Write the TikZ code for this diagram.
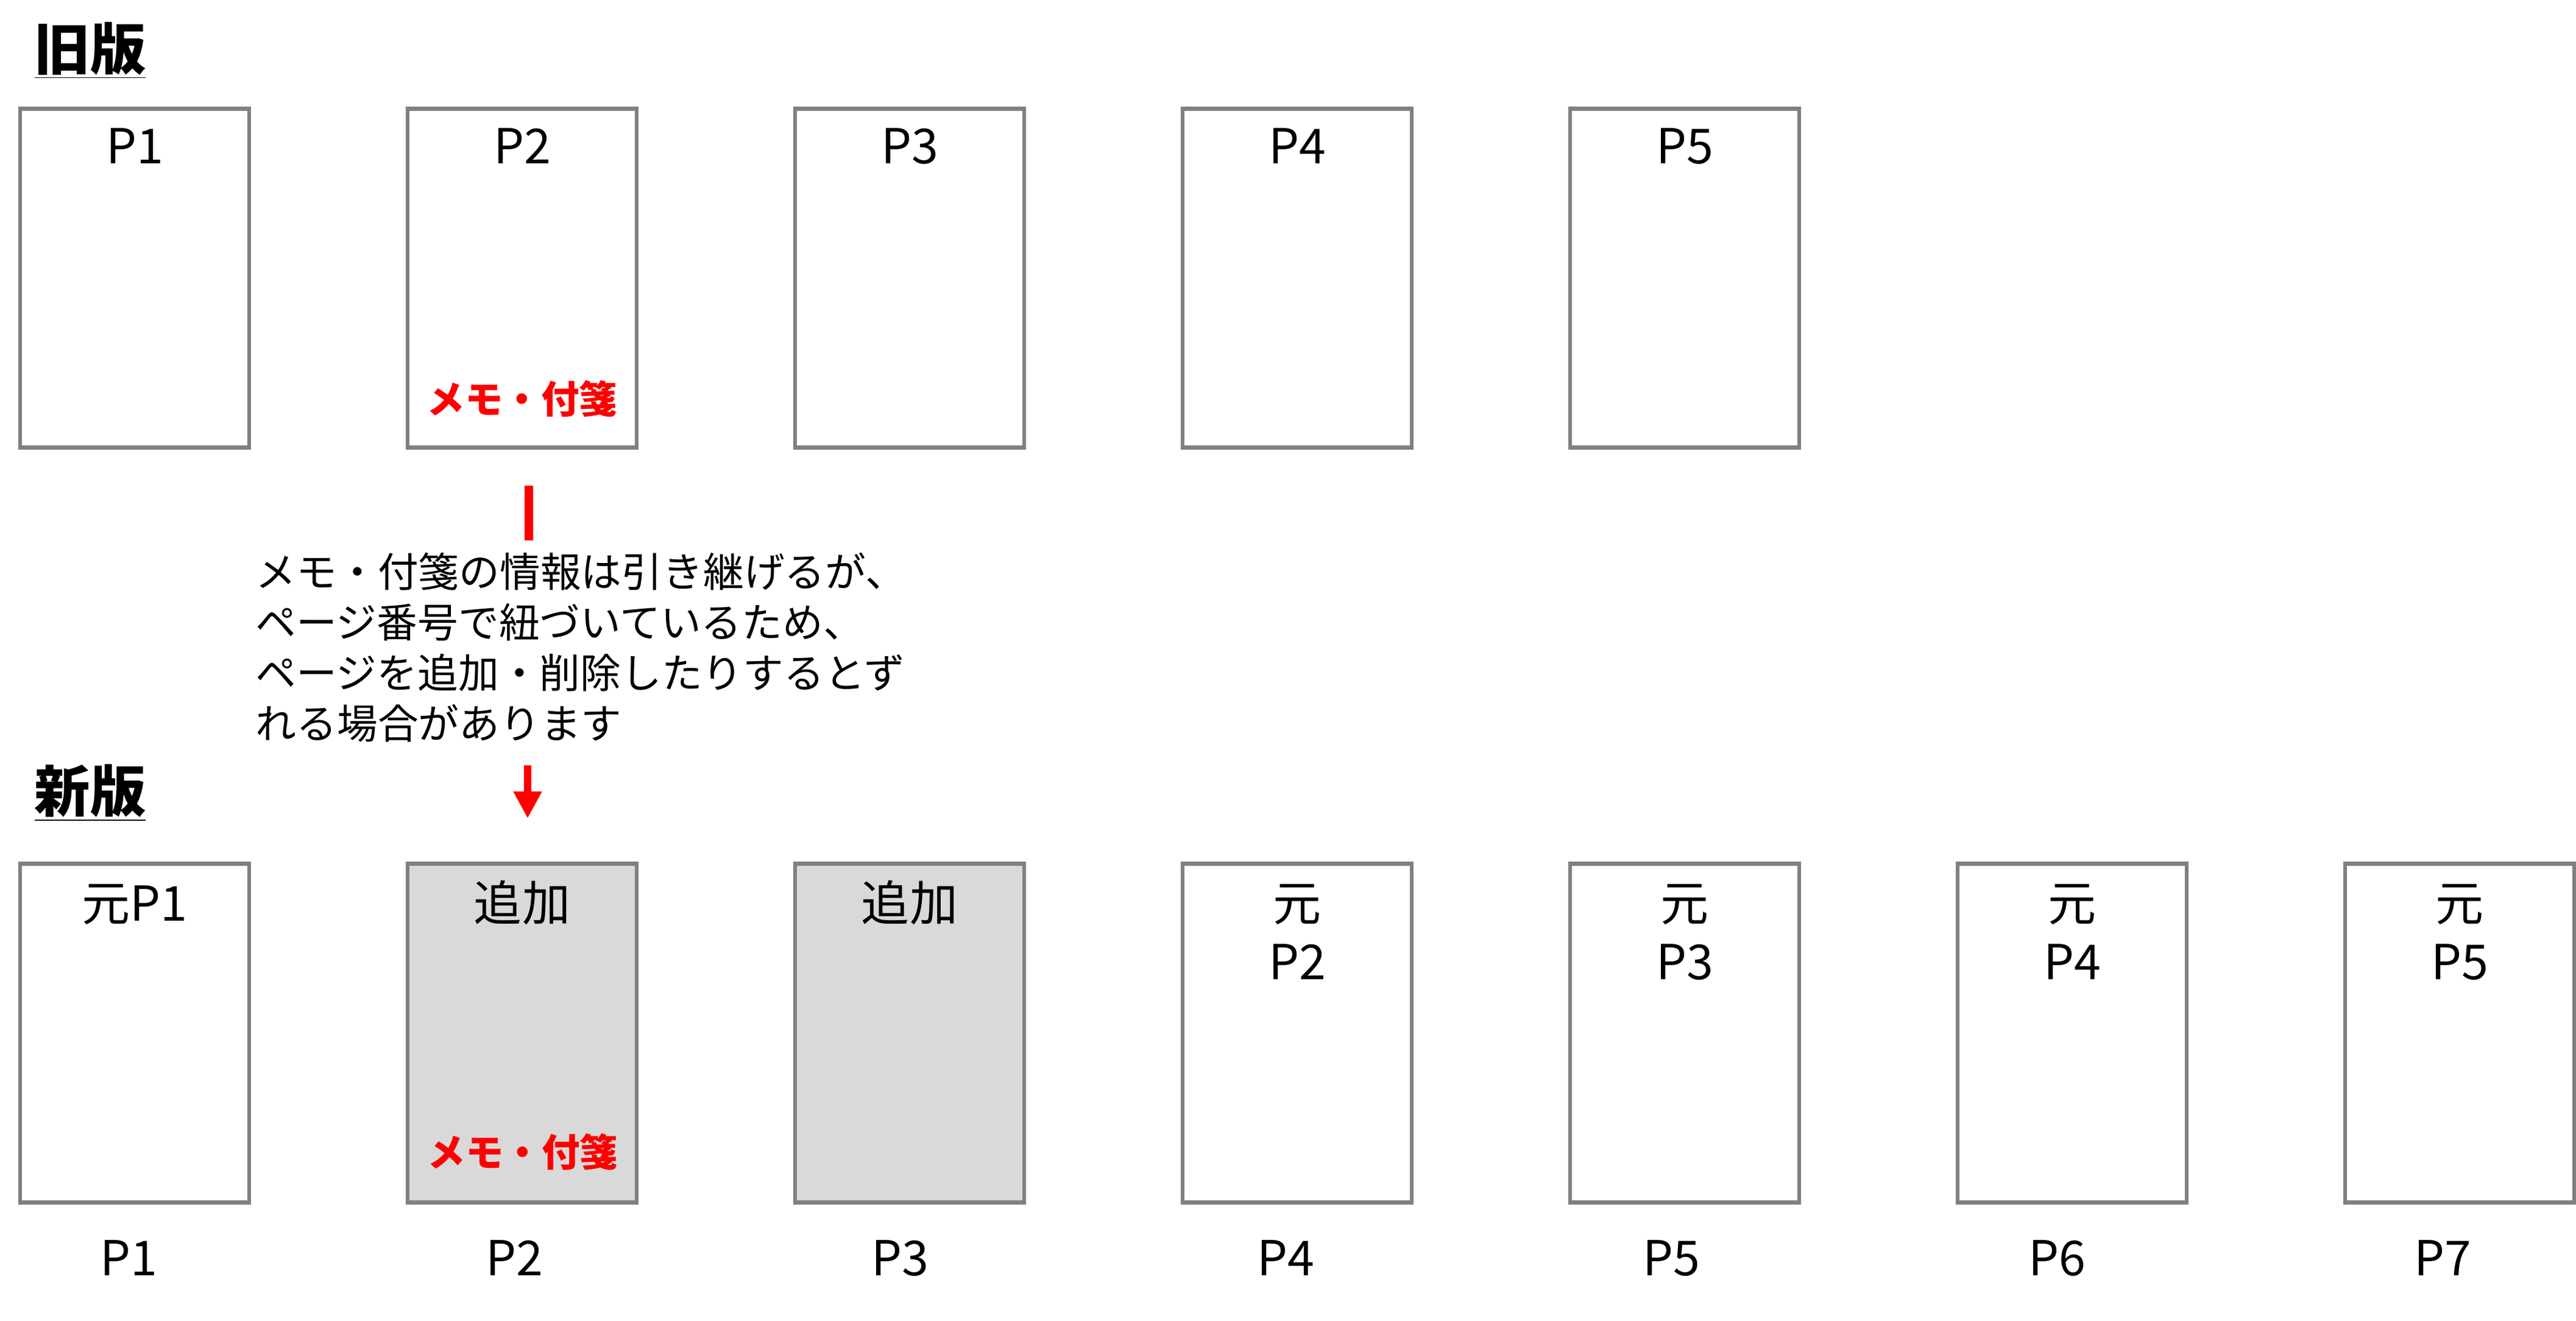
\documentclass[tikz,border=0pt]{standalone}
\usepackage{fontspec}
\setmainfont{Noto Sans CJK JP}
\usetikzlibrary{arrows.meta,positioning}

\def\pitch{6.36}
\def\oldpg#1#2{\node[page] (old#1) at (2.21 + \pitch * #1, -4.565) {};
    \node[pagelabel] (oldtxt#1) at (2.21 + \pitch * #1, -2.68) {#2};}
% #4: y of the last baseline of the label
\def\newpg#1#2#3#4{\node[#2] (new#1) at (2.21 + \pitch * #1, -16.955) {};
    \node[pagelabel] (newtxt#1) at (2.21 + \pitch * #1, #4) {#3};}
\def\pgnum#1#2{\node[pagenum] (num#1) at (2.11 + 6.33 * #1, -20.93) {#2};}

\begin{document}
\begin{tikzpicture}[
    page/.style={draw=gray, fill=white, line width=0.067cm,
        minimum width=3.76cm, minimum height=5.56cm,
        inner sep=0, outer sep=0},
    added/.style={page, fill=black!15},
    pagelabel/.style={anchor=base, align=center, inner sep=0,
        font=\fontsize{22.5}{27.3}\selectfont},
    pagenum/.style={pagelabel},
    memo/.style={anchor=base, inner sep=0, text=red,
        font=\bfseries\fontsize{17.8}{21}\selectfont},
    heading/.style={anchor=base west, inner sep=0,
        font=\bfseries\fontsize{26}{30}\selectfont},
    note/.style={anchor=base west, align=left, inner sep=0,
        font=\fontsize{19}{23.6}\selectfont},
    ]
    \useasboundingbox (0,0) rectangle (42.28,-21.67);

    % old version
    \node[heading] (oldhead) at (0.56, -1.14) {\underline{旧版}};
    \oldpg{0}{P1}
    \oldpg{1}{P2}
    \oldpg{2}{P3}
    \oldpg{3}{P4}
    \oldpg{4}{P5}
    \node[memo] (oldmemo) at (8.57, -6.78) {メモ・付箋};

    % note between the two rows
    \coordinate[below=0.625cm of old1.south, xshift=0.11cm] (bar top);
    \coordinate[below=0.9cm of bar top] (bar bottom);
    \draw[red, line width=0.14cm] (bar top) -- (bar bottom);
    \node[note] (notetext) at (4.19, -12.12) {メモ・付箋の情報は引き継げるが、\\
        ページ番号で紐づいているため、\\
        ページを追加・削除したりするとず\\
        れる場合があります};

    % new version
    \node[heading] (newhead) at (0.56, -13.32) {\underline{新版}};
    \newpg{0}{page}{元P1}{-15.11}
    \newpg{1}{added}{追加}{-15.11}
    \newpg{2}{added}{追加}{-15.11}
    \newpg{3}{page}{元\\P2}{-16.07}
    \newpg{4}{page}{元\\P3}{-16.07}
    \newpg{5}{page}{元\\P4}{-16.07}
    \newpg{6}{page}{元\\P5}{-16.07}
    \node[memo] (newmemo) at (8.58, -19.14) {メモ・付箋};
    \coordinate[above=1.615cm of new1.north, xshift=0.09cm] (arrow start);
    \coordinate[above=0.745cm of new1.north, xshift=0.09cm] (arrow end);
    \draw[red, line width=0.12cm, -{Triangle[length=0.44cm, width=0.44cm]}]
        (arrow start) -- (arrow end);

    \pgnum{0}{P1}
    \pgnum{1}{P2}
    \pgnum{2}{P3}
    \pgnum{3}{P4}
    \pgnum{4}{P5}
    \pgnum{5}{P6}
    \pgnum{6}{P7}
\end{tikzpicture}
\end{document}
